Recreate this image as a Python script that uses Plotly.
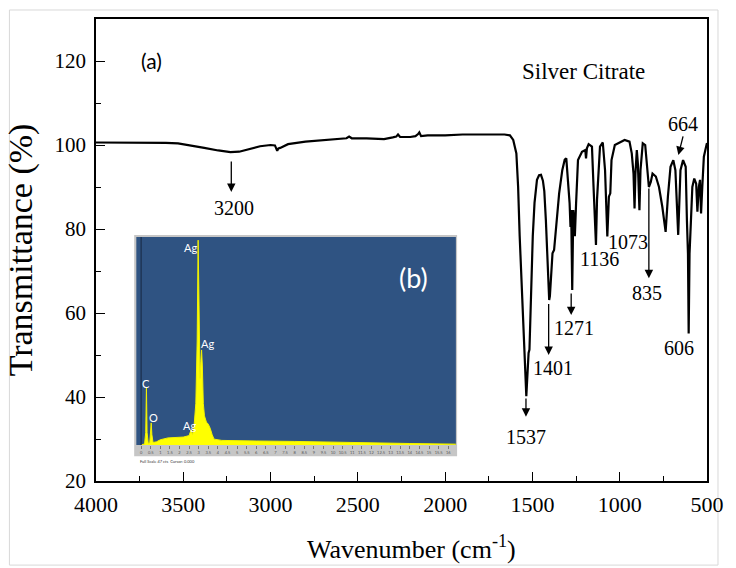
import plotly.graph_objects as go

# ---------------- FTIR spectrum (a) ----------------
wavenumber = [4000, 3800, 3600, 3530, 3450, 3380, 3300, 3230, 3180, 3120, 3060, 3000, 2975, 2962, 2955,
              2945, 2925, 2900, 2800, 2700, 2600, 2565, 2550, 2535, 2450, 2350, 2300, 2280, 2270, 2258,
              2200, 2170, 2155, 2148, 2138, 2100, 2000, 1900, 1800, 1700, 1660, 1629, 1610, 1592, 1582,
              1573, 1564, 1558, 1552, 1545, 1540, 1535, 1530, 1526, 1522, 1517, 1507, 1498, 1488, 1474,
              1462, 1451, 1440, 1432, 1423, 1413, 1407, 1404, 1400, 1395, 1385, 1376, 1366, 1347, 1329,
              1315, 1306, 1295, 1287, 1282, 1278, 1272, 1266, 1261, 1257, 1250, 1239, 1216, 1197, 1193,
              1188, 1178, 1159, 1150, 1141, 1136, 1130, 1113, 1097, 1084, 1071, 1062, 1054, 1047, 1028,
              972, 944, 931, 921, 915, 910, 902, 896, 887, 881, 868, 854, 844, 837, 833, 822, 812, 793,
              775, 756, 737, 724, 709, 693, 681, 665, 652, 637, 622, 615, 609, 605, 600, 592, 584, 573,
              562, 555, 547, 540, 534, 527, 518, 503, 500]
transmittance = [100.6, 100.6, 100.5, 100.4, 99.9, 99.3, 98.7, 98.3, 98.4, 99.0, 99.7, 100.0, 99.9, 98.6, 99.2,
                 99.3, 99.7, 100.2, 100.8, 101.2, 101.5, 101.6, 102.0, 101.6, 101.6, 101.4, 101.8, 102.0, 102.5, 101.9,
                 101.9, 102.1, 102.6, 103.0, 102.1, 102.3, 102.3, 102.5, 102.5, 102.6, 102.5, 102.3, 101.2, 98.0, 90.1,
                 78.3, 69.6, 64.0, 57.5, 50.5, 44.0, 40.2, 44.2, 49.0, 50.5, 51.3, 66.3, 78.3, 86.2, 91.7,
                 92.8, 92.9, 91.5, 89.0, 82.1, 72.6, 67.9, 63.1, 64.0, 67.9, 74.2, 75.0, 79.8, 88.5, 94.0,
                 96.5, 96.8, 91.7, 86.1, 80.5, 84.5, 65.5, 84.5, 82.0, 78.3, 86.0, 96.4, 98.4, 98.8, 96.8,
                 99.2, 100.2, 99.6, 90.1, 78.3, 76.2, 87.0, 99.6, 100.6, 94.0, 78.2, 87.7, 88.5, 96.4, 100.0,
                 101.2, 100.8, 98.0, 93.2, 84.9, 93.2, 98.8, 95.6, 84.5, 94.0, 100.4, 100.0, 94.8, 91.7, 90.0, 91.2, 93.2, 92.5,
                 90.0, 85.3, 79.3, 87.7, 94.8, 96.4, 94.0, 78.6, 94.0, 96.4, 94.8, 82.0, 74.1, 55.1, 74.1, 82.0, 90.0, 92.0,
                 90.8, 84.1, 90.0, 91.7, 83.7, 90.0, 97.2, 100.0, 100.5]

# peak labels: text, label x, label y, arrow x, arrow start y, arrow tip y (None = no arrow)
peak_text = ["3200", "1537", "1401", "1271", "1136", "1073", "835", "606", "664"]
peak_lx = [3210, 1537, 1385, 1261, 1114, 951, 844, 658, 635]
peak_ly = [85.0, 30.5, 46.9, 56.4, 72.9, 76.9, 64.8, 51.7, 105.0]
arrow_x0 = [3225, 1537, 1407, 1278, None, None, 833, None, 635]
arrow_x1 = [3225, 1537, 1407, 1278, None, None, 833, None, 664]
arrow_y0 = [96.4, 40.0, 62.5, 65.0, None, None, 90.0, None, 102.4]
arrow_y1 = [88.8, 35.3, 50.0, 59.5, None, None, 68.3, None, 97.6]

x_ticks = [4000, 3500, 3000, 2500, 2000, 1500, 1000, 500]
y_ticks = [20, 40, 60, 80, 100, 120]

# ---------------- EDX spectrum inset (b) ----------------
edx_kev = [0.0, 0.05, 0.18, 0.24, 0.277, 0.31, 0.37, 0.45, 0.50, 0.525, 0.56, 0.62, 0.8, 1.0, 1.4, 1.8,
           2.2, 2.5, 2.6, 2.68, 2.75, 2.85, 2.92, 2.97, 3.0, 3.04, 3.07, 3.11, 3.15, 3.19, 3.24, 3.3,
           3.4, 3.5, 3.6, 3.7, 3.8, 4.2, 5.0, 6.0, 8.0, 10.0, 12.0, 14.0, 16.4]
edx_counts = [0, 2, 5, 60, 279, 60, 8, 10, 60, 106, 50, 12, 15, 25, 34, 36,
              38, 45, 72, 50, 80, 200, 500, 985, 700, 420, 320, 400, 457, 380, 200, 140,
              110, 100, 80, 50, 28, 22, 20, 19, 17, 13, 10, 7, 4]
edx_lbl_text = ["Ag", "Ag", "C", "O", "Ag"]
edx_lbl_x = [2.56, 3.44, 0.26, 0.62, 2.51]
edx_lbl_y = [952, 490, 298, 130, 96]

SERIF = "Times New Roman, Liberation Serif, serif"
SANS = "Lato"

fig = go.Figure()
fig.add_trace(go.Scatter(x=wavenumber, y=transmittance, mode="lines",
                         line=dict(color="black", width=2.2), showlegend=False,
                         xaxis="x", yaxis="y"))
fig.add_trace(go.Scatter(x=edx_kev, y=edx_counts, mode="lines", fill="tozeroy",
                         fillcolor="#FFFF00", line=dict(color="#F2F200", width=1),
                         showlegend=False, xaxis="x2", yaxis="y2"))

inset_dx = [0.066, 0.589]
inset_dy = [0.078, 0.528]

ann = []
for t, lx, ly in zip(peak_text, peak_lx, peak_ly):
    ann.append(dict(x=lx, y=ly, xref="x", yref="y", text=t, showarrow=False,
                    font=dict(family=SERIF, size=20, color="black")))
for x0, x1, y0, y1 in zip(arrow_x0, arrow_x1, arrow_y0, arrow_y1):
    if x0 is None:
        continue
    ann.append(dict(x=x1, y=y1, ax=x0, ay=y0, xref="x", yref="y", axref="x", ayref="y",
                    text="", showarrow=True, arrowhead=2, arrowsize=1.3, arrowwidth=1.3,
                    arrowcolor="black"))
ann.append(dict(x=3684, y=120.2, xref="x", yref="y", text="(a)", showarrow=False,
                font=dict(family=SANS, size=21, color="black")))
ann.append(dict(x=1210, y=117.4, xref="x", yref="y", text="Silver Citrate", showarrow=False,
                font=dict(family=SERIF, size=23, color="black")))
ann.append(dict(x=0.5, y=-0.145, xref="paper", yref="paper", xshift=10, yanchor="middle",
                text="Wavenumber (cm<sup>-1</sup>)", showarrow=False,
                font=dict(family=SERIF, size=26, color="black")))
for t, lx, ly in zip(edx_lbl_text, edx_lbl_x, edx_lbl_y):
    ann.append(dict(x=lx, y=ly, xref="x2", yref="y2", text=t, showarrow=False,
                    font=dict(family=SANS, size=11, color="white")))
ann.append(dict(x=14.2, y=805, xref="x2", yref="y2", text="(b)", showarrow=False,
                font=dict(family=SANS, size=27, color="white")))
ann.append(dict(x=inset_dx[0] + 0.002, y=inset_dy[0] - 0.036, xref="paper", yref="paper",
                xanchor="left", yanchor="middle", text="Full Scale 47 cts  Cursor: 0.000",
                showarrow=False, font=dict(family=SANS, size=4, color="#333333")))

shapes = [
    dict(type="rect", xref="paper", yref="paper", x0=-0.1417, x1=1.018, y0=-0.182, y1=1.0195,
         line=dict(color="#D8D8D8", width=1), fillcolor="rgba(0,0,0,0)", layer="below"),
    dict(type="rect", xref="paper", yref="paper", x0=inset_dx[0] - 0.0035, x1=inset_dx[1] + 0.002,
         y0=inset_dy[0] - 0.0245, y1=inset_dy[1] + 0.0045,
         line=dict(width=0), fillcolor="#C6C6C6", layer="below"),
    dict(type="rect", xref="paper", yref="paper", x0=inset_dx[0], x1=inset_dx[1],
         y0=inset_dy[0], y1=inset_dy[1], line=dict(width=0), fillcolor="#2F5382", layer="below"),
    dict(type="line", xref="x2", yref="y2 domain", x0=0, x1=0, y0=0, y1=1,
         line=dict(color="#1B2E4C", width=1.2), layer="above"),
]

axis_common = dict(showgrid=False, zeroline=False, showline=True, linecolor="black", linewidth=1.6,
                   mirror=True, ticks="inside", tickcolor="black", tickwidth=1.4, ticklen=9)

fig.update_layout(
    width=736, height=568,
    margin=dict(l=96, r=19, t=19, b=87),
    paper_bgcolor="white", plot_bgcolor="rgba(0,0,0,0)",
    xaxis=dict(range=[4000, 500], tickvals=x_ticks, **axis_common,
               minor=dict(dtick=250, ticks="inside", ticklen=5, tickwidth=1.4, tickcolor="black"),
               tickfont=dict(family=SERIF, size=22, color="black"), ticklabelstandoff=3),
    yaxis=dict(range=[20, 130], tickvals=y_ticks, **axis_common,
               minor=dict(dtick=10, ticks="inside", ticklen=5, tickwidth=1.4, tickcolor="black"),
               tickfont=dict(family=SERIF, size=21, color="black"), ticklabelstandoff=4,
               title=dict(text="Transmittance (%)", standoff=12,
                          font=dict(family=SERIF, size=34, color="black"))),
    xaxis2=dict(domain=inset_dx, anchor="y2", range=[-0.25, 16.4], showgrid=False, zeroline=False,
                showline=False, ticks="outside", ticklen=3, tickcolor="#777777", tickwidth=0.6,
                dtick=0.5, tick0=0, tickfont=dict(family=SANS, size=4, color="#555555")),
    yaxis2=dict(domain=inset_dy, anchor="x2", range=[0, 1000], showgrid=False, zeroline=False,
                showline=False, showticklabels=False, ticks=""),
    annotations=ann, shapes=shapes,
)

fig.write_html("out.html")
